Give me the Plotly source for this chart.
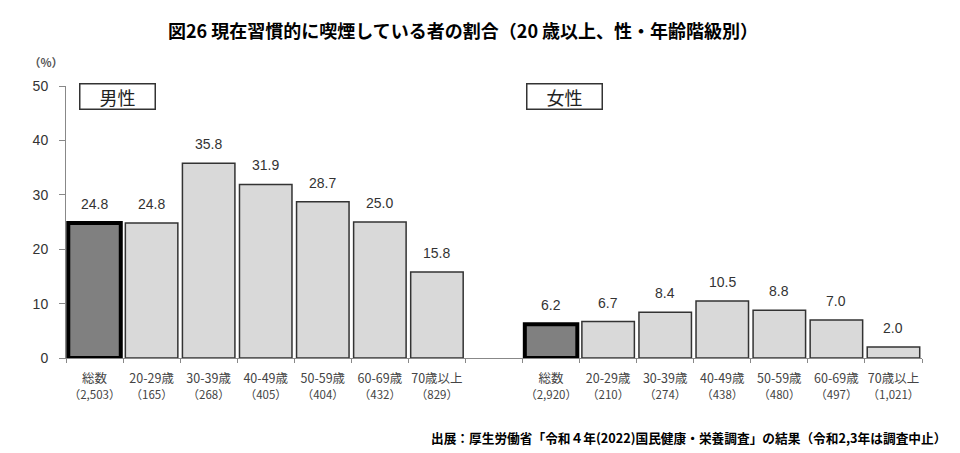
import plotly.graph_objects as go

title = "図26 現在習慣的に喫煙している者の割合（20 歳以上、性・年齢階級別）"
age_groups = ["総数", "20-29歳", "30-39歳", "40-49歳", "50-59歳", "60-69歳", "70歳以上"]
male_values = [24.8, 24.8, 35.8, 31.9, 28.7, 25.0, 15.8]
female_values = [6.2, 6.7, 8.4, 10.5, 8.8, 7.0, 2.0]
male_n = ["2,503", "165", "268", "405", "404", "432", "829"]
female_n = ["2,920", "210", "274", "438", "480", "497", "1,021"]
y_ticks = [0, 10, 20, 30, 40, 50]
source = "出展：厚生労働省「令和４年(2022)国民健康・栄養調査」の結果（令和2,3年は調査中止）"

JP = "Noto Sans CJK JP, sans-serif"
NUM = "Liberation Sans, Arial, sans-serif"

x_male = list(range(len(age_groups)))
x_female = [i + len(age_groups) + 1 for i in range(len(age_groups))]
xs = x_male + x_female
ys = male_values + female_values
colors = ["#808080" if i == 0 else "#d9d9d9" for i in range(7)] * 2
lws = [4 if i == 0 else 1.5 for i in range(7)] * 2
lcols = ["#000000" if i == 0 else "#333333" for i in range(7)] * 2

def lab(a, n):
    return f"{a}<br><span style='font-size:11.5px'>（{n}）</span>"

ticktext = [lab(a, n) for a, n in zip(age_groups, male_n)] + \
           [lab(a, n) for a, n in zip(age_groups, female_n)]

fig = go.Figure()
fig.add_trace(go.Bar(
    x=xs, y=ys, width=0.92,
    marker=dict(color=colors, line=dict(color=lcols, width=lws)),
    hoverinfo="skip",
))

for x, y in zip(xs, ys):
    fig.add_annotation(x=x, y=y, text=f"{y:.1f}", showarrow=False,
                       yanchor="bottom", yshift=9,
                       font=dict(family=NUM, size=14, color="#333333"))

fig.update_layout(
    width=960, height=453,
    margin=dict(l=66, r=38, t=86, b=95),
    paper_bgcolor="white", plot_bgcolor="white",
    showlegend=False,
    font=dict(family=JP, color="#333333"),
    xaxis=dict(
        range=[-0.5, 14.5], tickvals=xs, ticktext=ticktext,
        showline=True, linecolor="#888888", linewidth=1,
        ticks="", showgrid=False, zeroline=False,
        tickfont=dict(family=JP, size=12.5, color="#444444"),
        ticklabelstandoff=9,
        minor=dict(tick0=0.5, dtick=1, ticks="outside", ticklen=4, tickcolor="#888888"),
    ),
    yaxis=dict(
        range=[0, 50], tickvals=y_ticks,
        showline=True, linecolor="#888888", linewidth=1,
        ticks="outside", ticklen=6, tickcolor="#888888",
        showgrid=False, zeroline=False,
        tickfont=dict(family=NUM, size=14, color="#333333"),
        ticklabelstandoff=8,
    ),
)

fig.add_annotation(text=f"<b>{title}</b>", xref="paper", yref="paper",
                   x=(463 - 66) / 856, y=(453 - 30 - 95) / 272, showarrow=False,
                   xanchor="center", yanchor="middle",
                   font=dict(family=JP, size=18, color="#000000"))
fig.add_annotation(text="<b>（%）</b>", xref="paper", yref="paper",
                   x=(46 - 66) / 856, y=(453 - 62 - 95) / 272, showarrow=False,
                   xanchor="center", yanchor="middle",
                   font=dict(family=JP, size=11.5, color="#555555"))
fig.add_annotation(text="<b>" + source + "</b>", xref="paper", yref="paper",
                   x=(948 - 66) / 856, y=(453 - 437 - 95) / 272, showarrow=False,
                   xanchor="right", yanchor="middle",
                   font=dict(family=JP, size=12.7, color="#000000"))

for label, x0 in [("男性", 77), ("女性", 524)]:
    fig.add_annotation(text=label, xref="paper", yref="paper",
                       x=(x0 + 40 - 66) / 856, y=(453 - 96 - 95) / 272,
                       showarrow=False, xanchor="center", yanchor="middle",
                       width=72, height=22, bordercolor="#333333", borderwidth=1.5,
                       bgcolor="white",
                       font=dict(family=JP, size=18, color="#222222"))

fig.write_html("out.html", post_script="document.body.style.margin='0';",
               config={"displayModeBar": False})
